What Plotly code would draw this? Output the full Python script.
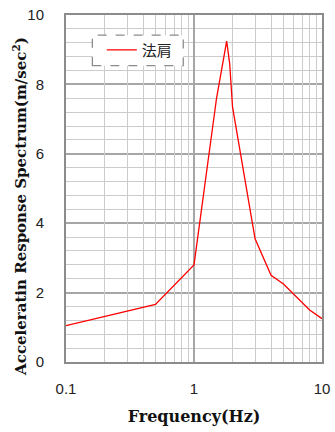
import plotly.graph_objects as go

# Acceleration response spectrum, series "法肩"
freq_hz = [0.1, 0.5, 1.0, 1.5, 1.8, 1.9, 2.0, 3.0, 4.0, 5.0, 8.0, 10.0]
accel = [1.05, 1.66, 2.8, 7.6, 9.25, 8.6, 7.35, 3.55, 2.5, 2.25, 1.5, 1.25]
series_name = "法肩"

x_tickvals = [0.1, 1, 10]
x_ticktext = ["0.1", "1", "10"]
x_minor_vals = [0.2, 0.3, 0.4, 0.5, 0.6, 0.7, 0.8, 0.9, 2, 3, 4, 5, 6, 7, 8, 9]
y_tickvals = [0, 2, 4, 6, 8, 10]

fig = go.Figure()
# invisible copy on the overlay axis that carries the light in-decade grid
fig.add_trace(go.Scatter(
    x=freq_hz, y=accel, mode="lines", xaxis="x2", showlegend=False,
    hoverinfo="skip", line=dict(width=0, color="rgba(0,0,0,0)"),
))
fig.add_trace(go.Scatter(
    x=freq_hz, y=accel, mode="lines", name=series_name,
    line=dict(color="#ff0000", width=1.3),
))

tick_font = dict(family="Liberation Sans, Arial, sans-serif", size=15, color="#222222")
serif_bold = "DejaVu Serif, serif"
minor_grid = "#cccccc"
major_grid = "#a6a6a6"
frame = "#8c8c8c"

fig.update_layout(
    width=335, height=432,
    margin=dict(l=66, r=13, t=15, b=70, autoexpand=False),
    paper_bgcolor="white", plot_bgcolor="white",
    showlegend=True,
    legend=dict(
        x=0.14, y=0.899, xanchor="left", yanchor="middle",
        bgcolor="rgba(0,0,0,0)", borderwidth=0,
        font=dict(family="Noto Sans CJK JP, sans-serif", size=15, color="#222222"),
        itemwidth=30,
    ),
    xaxis2=dict(
        type="log", range=[-1, 1], overlaying="x", side="bottom", automargin=False,
        tickmode="array", tickvals=x_minor_vals, showticklabels=False,
        ticks="", showgrid=True, gridcolor=minor_grid, gridwidth=1.4,
        showline=False, zeroline=False,
    ),
    xaxis=dict(
        type="log", range=[-1, 1], automargin=False,
        tickmode="array", tickvals=x_tickvals, ticktext=x_ticktext,
        tickfont=tick_font, ticks="", ticklen=0, ticklabelstandoff=12,
        showgrid=True, gridcolor=major_grid, gridwidth=1.6,
        showline=True, linecolor=frame, linewidth=2, mirror=True,
        zeroline=False,
        title=dict(text="<b>Frequency(Hz)</b>", font=dict(family=serif_bold, size=16, color="#111111"), standoff=15),
    ),
    yaxis=dict(
        range=[0, 10], tickmode="array", tickvals=y_tickvals, automargin=False,
        tickfont=tick_font, ticks="", ticklen=0, ticklabelstandoff=17,
        showgrid=True, gridcolor=major_grid, gridwidth=1.6,
        showline=True, linecolor=frame, linewidth=2, mirror=True,
        minor=dict(showgrid=True, gridcolor=minor_grid, gridwidth=1.4, tick0=0, dtick=0.4),
        zeroline=False,
    ),
    annotations=[dict(
        text="<b>Acceleratin Response Spectrum(m/sec<sup>2</sup>)</b>",
        xref="paper", yref="paper", x=0, y=0.447, xshift=-46,
        xanchor="center", yanchor="middle", textangle=-90, showarrow=False,
        font=dict(family=serif_bold, size=15, color="#111111"),
    )],
    shapes=[dict(
        type="rect", xref="paper", yref="paper",
        x0=0.103, x1=0.458, y0=0.854, y1=0.942,
        line=dict(color="#8c8c8c", width=1.3, dash="dash"),
        fillcolor="white", layer="above",
    )],
)

fig.write_html("out.html")
